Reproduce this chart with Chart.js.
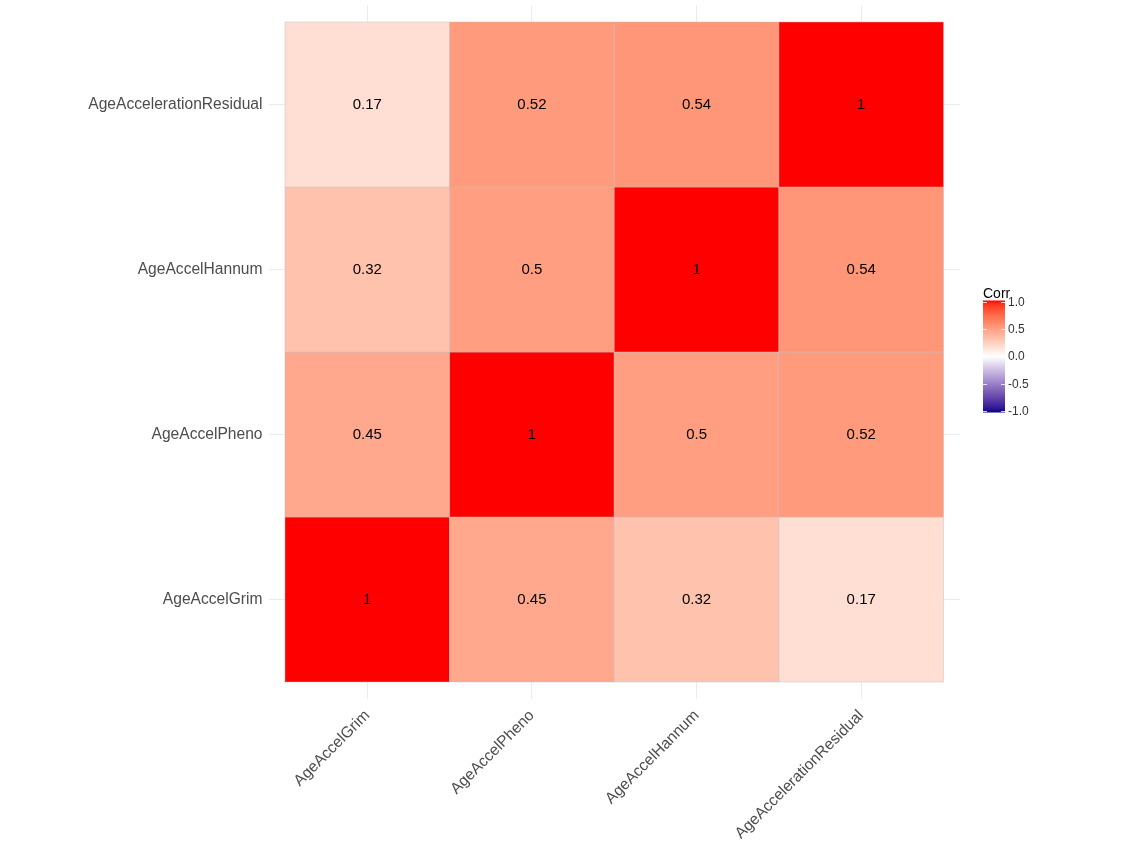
<!DOCTYPE html>
<html>
<head>
<meta charset="utf-8">
<script src="https://cdn.jsdelivr.net/npm/chart.js@4.4.1/dist/chart.umd.min.js"></script>
<style>
  html, body { margin: 0; padding: 0; background: #fff; }
  #wrap { width: 1125px; height: 844px; }
</style>
</head>
<body>
<div id="wrap"><canvas id="myChart"></canvas></div>
<script>
"use strict";
// variable names, in axis order (left to right / bottom to top)
const vars = ["AgeAccelGrim", "AgeAccelPheno", "AgeAccelHannum", "AgeAccelerationResidual"];
// correlation of each variable with the others, same order as vars
const corrGrim = [1, 0.45, 0.32, 0.17];
const corrPheno = [0.45, 1, 0.5, 0.52];
const corrHannum = [0.32, 0.5, 1, 0.54];
const corrResidual = [0.17, 0.52, 0.54, 1];
const corrRows = [corrGrim, corrPheno, corrHannum, corrResidual];
// colour bar breaks
const legendTicks = [-1, -0.5, 0, 0.5, 1];
const legendLabels = ["-1.0", "-0.5", "0.0", "0.5", "1.0"];

//// colour scale: darkblue - white - red, mixed in Lab like ggplot does
function toLin(c) {
  c /= 255;
  return c <= 0.04045 ? c / 12.92 : Math.pow((c + 0.055) / 1.055, 2.4);
}
function fromLin(c) {
  let v = c <= 0.0031308 ? 12.92 * c : 1.055 * Math.pow(c, 1 / 2.4) - 0.055;
  return Math.round(Math.min(1, Math.max(0, v)) * 255);
}
function rgb2lab(rgb) {
  let r = toLin(rgb[0]), g = toLin(rgb[1]), b = toLin(rgb[2]);
  let x = (0.4124 * r + 0.3576 * g + 0.1805 * b) / 0.95047;
  let y = 0.2126 * r + 0.7152 * g + 0.0722 * b;
  let z = (0.0193 * r + 0.1192 * g + 0.9505 * b) / 1.08883;
  let f = t => (t > 0.008856 ? Math.cbrt(t) : 7.787 * t + 16 / 116);
  return [116 * f(y) - 16, 500 * (f(x) - f(y)), 200 * (f(y) - f(z))];
}
function lab2rgb(lab) {
  let fy = (lab[0] + 16) / 116, fx = fy + lab[1] / 500, fz = fy - lab[2] / 200;
  let inv = t => (t > 0.206893 ? t * t * t : (t - 16 / 116) / 7.787);
  let x = inv(fx) * 0.95047, y = inv(fy), z = inv(fz) * 1.08883;
  let r = 3.2406 * x - 1.5372 * y - 0.4986 * z;
  let g = -0.9689 * x + 1.8758 * y + 0.0415 * z;
  let b = 0.0557 * x - 0.204 * y + 1.057 * z;
  return "rgb(" + fromLin(r) + "," + fromLin(g) + "," + fromLin(b) + ")";
}
const labLow = rgb2lab([0, 0, 139]);
const labMid = rgb2lab([255, 255, 255]);
const labHigh = rgb2lab([255, 0, 0]);
function corrColor(v) {
  let end = v >= 0 ? labHigh : labMid;
  let start = v >= 0 ? labMid : labLow;
  let t = v >= 0 ? v : v + 1;
  return lab2rgb([0, 1, 2].map(k => start[k] + (end[k] - start[k]) * t));
}

// one point per cell, its position is the category index
let cells = [];
corrRows.forEach(function (row, i) {
  row.forEach(function (v, j) {
    cells.push({ x: i + 1, y: j + 1, v: v });
  });
});

///draws tiles and their labels from the scales
const tilePlugin = {
  id: "tiles",
  beforeDatasetsDraw(chart) {
    const ctx = chart.ctx;
    const xs = chart.scales.x, ys = chart.scales.y;
    ctx.save();
    cells.forEach(function (c) {
      let x0 = xs.getPixelForValue(c.x - 0.5), x1 = xs.getPixelForValue(c.x + 0.5);
      let y0 = ys.getPixelForValue(c.y + 0.5), y1 = ys.getPixelForValue(c.y - 0.5);
      ctx.fillStyle = corrColor(c.v);
      ctx.fillRect(x0, y0, x1 - x0, y1 - y0);
      ctx.strokeStyle = "rgba(190,190,190,0.45)";
      ctx.lineWidth = 1;
      ctx.strokeRect(x0, y0, x1 - x0, y1 - y0);
    });
    ctx.fillStyle = "#000";
    ctx.font = "15px 'Liberation Sans', Arial, sans-serif";
    ctx.textAlign = "center";
    ctx.textBaseline = "middle";
    cells.forEach(function (c) {
      ctx.fillText(String(c.v), xs.getPixelForValue(c.x), ys.getPixelForValue(c.y));
    });
    ctx.restore();
  },
  afterDraw(chart) {
    //colour bar legend on the right
    const ctx = chart.ctx;
    const bx = 983, bw = 22, top = 302, bottom = 411;
    const pos = v => bottom - ((v + 1) / 2) * (bottom - top);
    ctx.save();
    let grad = ctx.createLinearGradient(0, top - 1.5, 0, bottom + 1.5);
    for (let k = 0; k <= 40; k++) {
      grad.addColorStop(k / 40, corrColor(1 - k / 20));
    }
    ctx.fillStyle = grad;
    ctx.fillRect(bx, top - 1.5, bw, bottom - top + 3);
    ctx.strokeStyle = "rgba(255,255,255,0.8)";
    ctx.lineWidth = 1;
    ctx.font = "12px 'Liberation Sans', Arial, sans-serif";
    ctx.textBaseline = "middle";
    ctx.textAlign = "left";
    legendTicks.forEach(function (v, k) {
      let y = Math.round(pos(v)) + 0.5;
      ctx.beginPath();
      ctx.moveTo(bx, y);
      ctx.lineTo(bx + 4, y);
      ctx.moveTo(bx + bw - 4, y);
      ctx.lineTo(bx + bw, y);
      ctx.stroke();
      ctx.fillStyle = "#333";
      ctx.fillText(legendLabels[k], bx + bw + 3, pos(v) + 0.5);
    });
    ctx.fillStyle = "#000";
    ctx.font = "14px 'Liberation Sans', Arial, sans-serif";
    ctx.textBaseline = "alphabetic";
    ctx.fillText("Corr", bx, 298);
    ctx.restore();
  }
};

const catTicks = scale => {
  scale.ticks = vars.map((n, i) => ({ value: i + 1 }));
};
const axisFont = { family: "'Liberation Sans', Arial, sans-serif", size: 15.6 };

new Chart(document.querySelector("#myChart"), {
  type: "scatter",
  data: {
    datasets: [{ data: cells, pointRadius: 0, pointHoverRadius: 0 }]
  },
  options: {
    responsive: true,
    maintainAspectRatio: false,
    animation: false,
    events: [],
    layout: { padding: { left: 0, right: 165, top: 5.5, bottom: 0 } },
    plugins: { legend: { display: false }, tooltip: { enabled: false } },
    scales: {
      x: {
        type: "linear",
        min: 0.4,
        max: 4.6,
        afterBuildTicks: catTicks,
        afterFit: scale => {
          scale.height = 145.5;
          scale.paddingLeft = 0;
          scale.paddingRight = 0;
        },
        grid: { color: "#ebebeb", lineWidth: 1, drawTicks: false },
        border: { display: false },
        ticks: {
          minRotation: 45,
          maxRotation: 45,
          padding: 8,
          color: "#4d4d4d",
          font: axisFont,
          callback: v => vars[v - 1]
        }
      },
      y: {
        type: "linear",
        min: 0.4,
        max: 4.6,
        afterBuildTicks: catTicks,
        afterFit: scale => {
          scale.width = 268.5;
          scale.paddingTop = 0;
          scale.paddingBottom = 0;
        },
        grid: { color: "#ebebeb", lineWidth: 1, drawTicks: false },
        border: { display: false },
        ticks: {
          padding: 6,
          color: "#4d4d4d",
          font: axisFont,
          callback: v => vars[v - 1]
        }
      }
    }
  },
  plugins: [tilePlugin]
});
</script>
</body>
</html>
